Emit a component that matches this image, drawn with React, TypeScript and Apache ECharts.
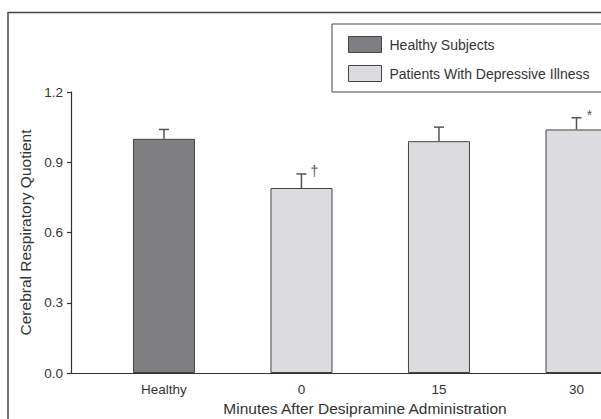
import React, { useEffect, useRef } from "react";
import * as echarts from "echarts";

const categories = ["Healthy", "0", "15", "30"];
const healthyValues = [1.0, null, null, null];
const patientValues = [null, 0.79, 0.99, 1.04];
const errorTops = [1.04, 0.85, 1.05, 1.09];
const markers = ["", "†", "", "*"];
const yTicks = [0, 0.3, 0.6, 0.9, 1.2];

const FONT = "'Liberation Sans', Arial, sans-serif";
const TXT = "#333";

export default function App() {
  const ref = useRef<HTMLDivElement>(null);
  useEffect(() => {
    if (!ref.current) return;
    document.body.style.margin = "0";
    document.body.style.overflow = "hidden";
    const chart = echarts.init(ref.current, undefined, { renderer: "svg" });
    const means = categories.map((_, i) => (healthyValues[i] ?? patientValues[i]) as number);
    const option: any = {
      animation: false,
      backgroundColor: "#fff",
      textStyle: { fontFamily: FONT },
      graphic: [
        {
          type: "polyline",
          z: -10,
          shape: { points: [[700, 12.5], [8, 12.5], [8, 600]] },
          style: { fill: "none", stroke: "#444", lineWidth: 1.5 },
        },
      ],
      legend: {
        orient: "vertical",
        left: 332,
        top: 24,
        data: ["Healthy Subjects", "Patients With Depressive Illness"],
        itemWidth: 33,
        itemHeight: 16,
        itemGap: 12,
        padding: [12, 40, 10, 16],
        borderColor: "#444",
        borderWidth: 1,
        icon: "rect",
        itemStyle: { borderColor: "#444", borderWidth: 1 },
        textStyle: { fontSize: 14, color: TXT, fontFamily: FONT, padding: [0, 0, 0, 3] },
      },
      grid: { left: 71, right: 41, top: 92, bottom: 46, outerBoundsMode: "none", containLabel: false },
      xAxis: {
        type: "value",
        min: -0.676,
        max: 3.6,
        name: "Minutes After Desipramine Administration",
        nameLocation: "middle",
        nameGap: 27,
        nameTextStyle: { fontSize: 15.5, color: TXT, fontFamily: FONT },
        axisLine: { show: true, onZero: false, lineStyle: { color: "#333", width: 1.2 } },
        axisTick: { show: false },
        splitLine: { show: false },
        axisLabel: {
          customValues: [0, 1, 2, 3],
          formatter: (v: number) => categories[Math.round(v)] ?? "",
          fontSize: 13.5,
          color: TXT,
          margin: 9,
          fontFamily: FONT,
        },
      },
      yAxis: {
        type: "value",
        min: 0,
        max: 1.2,
        interval: 0.3,
        name: "Cerebral Respiratory Quotient",
        nameLocation: "middle",
        nameGap: 35,
        nameTextStyle: { fontSize: 15.5, color: TXT, fontFamily: FONT },
        axisLine: { show: true, onZero: false, lineStyle: { color: "#333", width: 1.2 } },
        axisTick: { show: true, length: 4, lineStyle: { color: "#333", width: 1.2 } },
        splitLine: { show: false },
        axisLabel: {
          formatter: (v: number) => v.toFixed(1),
          fontSize: 13.5,
          color: TXT,
          margin: 8,
          fontFamily: FONT,
          customValues: yTicks,
        },
      },
      series: [
        {
          name: "Healthy Subjects",
          type: "bar",
          barWidth: 62,
          barGap: "-100%",
          data: categories.map((_, i) => [i, healthyValues[i]]),
          itemStyle: { color: "#7f7f82", borderColor: "#444", borderWidth: 1 },
        },
        {
          name: "Patients With Depressive Illness",
          type: "bar",
          barWidth: 62,
          barGap: "-100%",
          data: categories.map((_, i) => [i, patientValues[i]]),
          itemStyle: { color: "#dcdcde", borderColor: "#444", borderWidth: 1 },
        },
        {
          type: "custom",
          name: "err",
          z: 5,
          data: categories.map((_, i) => [i, means[i], errorTops[i]]),
          renderItem: (params: any, api: any) => {
            const x = api.value(0);
            const p0 = api.coord([x, api.value(1)]);
            const p1 = api.coord([x, api.value(2)]);
            const st = { stroke: "#555", lineWidth: 1.5 };
            const children: any[] = [
              { type: "line", shape: { x1: p0[0], y1: p0[1], x2: p1[0], y2: p1[1] }, style: st },
              { type: "line", shape: { x1: p1[0] - 5, y1: p1[1], x2: p1[0] + 5, y2: p1[1] }, style: st },
            ];
            const m = markers[params.dataIndex];
            if (m) {
              children.push({
                type: "text",
                style: {
                  text: m,
                  x: p1[0] + 13,
                  y: p1[1] - 3,
                  align: "center",
                  verticalAlign: "middle",
                  fontSize: 14,
                  fill: "#555",
                  fontFamily: FONT,
                },
              });
            }
            return { type: "group", children };
          },
        },
      ],
    };
    chart.setOption(option);
    return () => chart.dispose();
  }, []);
  return (
    <div style={{ position: "relative", width: 601, height: 419, overflow: "hidden" }}>
      <div ref={ref} style={{ position: "absolute", left: 0, top: 0, width: 700, height: 419 }} />
    </div>
  );
}
